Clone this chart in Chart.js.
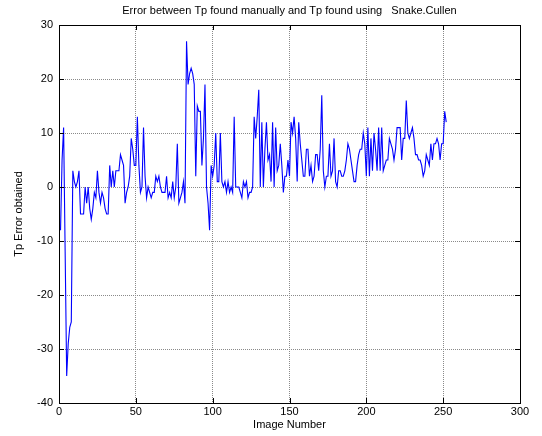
<!DOCTYPE html>
<html>
<head>
<meta charset="utf-8">
<script src="https://cdn.jsdelivr.net/npm/chart.js@4/dist/chart.umd.min.js"></script>
<style>
  body { margin: 0; background: #fff; }
  canvas { display: block; }
</style>
</head>
<body>
<canvas id="chart" width="542" height="436"></canvas>
<script>
  // Tp error per image, image numbers 1..252
  const tpError = [
    -8, 5, 11, -12, -35, -29, -26, -25, 3, 1,
    0, 1, 3, -5, -5, -5, 0, -3, 0, -4,
    -6, -4, -1, -2, 3, -1, -3, -1, -2, -4,
    -5, -5, 4, 0, 3, 0, 3, 3, 3, 6,
    5, 4, -3, -1, 0, 2, 9, 7, 4, 4,
    13, 4, -1, 0, 11, 2, -2, 0, -1, -2,
    -1, -1, 2, 1, 2, 0, -1, -1, -1, 2,
    -2, -1, -2, 1, -2, 0, 8, -3, -2, -1,
    1, -3, 27, 19, 21, 22, 21, 19, 2, 15,
    14, 14, 4, 9, 19, 0, -3, -8, 4, 2,
    4, 10, 1, 1, 10, 1, 0, 1, -1, 1,
    -1, 0, -1, 13, 0, 0, 0, -1, -2, 1,
    0, 1, -2, -1, -1, 0, 13, 9, 13, 18,
    0, 12, 0, 7, 12, 5, 6, 1, 12, 0,
    11, 3, 4, 8, 4, -1, 2, 2, 5, 2,
    12, 10, 13, 9, 1, 12, 8, 5, 2, 2,
    7, 7, 2, 4, 1, 2, 6, 6, 3, 7,
    17, 3, 0, 2, 2, 8, 2, 3, 9, 1,
    0, 3, 3, 2, 2, 3, 5, 8, 7, 5,
    3, 1, 1, 4, 6, 7, 7, 10, 8, 2,
    11, 2, 9, 3, 10, 7, 3, 11, 3, 11,
    3, 4, 5, 5, 9, 8, 7, 5, 7, 11,
    11, 11, 5, 9, 9, 16, 10, 9, 10, 11,
    9, 6, 6, 5, 5, 4, 2, 3, 6, 5,
    4, 8, 5, 8, 8, 9, 8, 5, 8, 8,
    14, 12
  ];
  const imageNumbers = tpError.map((v, i) => i + 1);

  const xTicks = [0, 50, 100, 150, 200, 250, 300];
  const yTicks = [-40, -30, -20, -10, 0, 10, 20, 30];

  const chartTitle = "Error between Tp found manually and Tp found using   Snake.Cullen";
  const xLabel = "Image Number";
  const yLabel = "Tp Error obtained";

  const FONT = "'Liberation Sans', Arial, sans-serif";

  // MATLAB style box with inward tick marks, plus the title
  const matlabBox = {
    id: "matlabBox",
    afterDraw(chart) {
      const { ctx, chartArea: a, scales } = chart;
      ctx.save();
      ctx.strokeStyle = "#000";
      ctx.lineWidth = 1;
      ctx.beginPath();
      xTicks.forEach(t => {
        const px = Math.round(scales.x.getPixelForValue(t)) + 0.5;
        ctx.moveTo(px, a.bottom); ctx.lineTo(px, a.bottom - 5);
        ctx.moveTo(px, a.top); ctx.lineTo(px, a.top + 5);
      });
      yTicks.forEach(t => {
        const py = Math.round(scales.y.getPixelForValue(t)) + 0.5;
        ctx.moveTo(a.left, py); ctx.lineTo(a.left + 5, py);
        ctx.moveTo(a.right, py); ctx.lineTo(a.right - 5, py);
      });
      ctx.stroke();
      ctx.strokeRect(Math.round(a.left) + 0.5, Math.round(a.top) + 0.5,
        Math.round(a.right - a.left), Math.round(a.bottom - a.top));

      ctx.fillStyle = "#000";
      ctx.font = "11px " + FONT;
      ctx.textAlign = "center";
      ctx.textBaseline = "middle";
      ctx.fillText(chartTitle, (a.left + a.right) / 2, 11);
      ctx.restore();
    }
  };

  new Chart(document.getElementById("chart"), {
    type: "line",
    data: {
      datasets: [{
        data: tpError.map((v, i) => ({ x: imageNumbers[i], y: v })),
        borderColor: "#0000ff",
        borderWidth: 1.1,
        pointRadius: 0,
        tension: 0,
        fill: false
      }]
    },
    options: {
      responsive: false,
      animation: false,
      layout: { padding: { top: 25, right: 22, bottom: 0, left: 0 } },
      plugins: { legend: { display: false }, tooltip: { enabled: false } },
      scales: {
        x: {
          type: "linear",
          min: 0, max: 300,
          afterFit(s) { s.height = 33; },
          afterBuildTicks(s) { s.ticks = xTicks.map(v => ({ value: v })); },
          ticks: { color: "#000", font: { size: 11, family: FONT }, padding: 2, maxRotation: 0 },
          grid: { color: "#8a8a8a", lineWidth: 1, drawTicks: false },
          border: { display: false, dash: [1, 1] },
          title: { display: true, text: xLabel, color: "#000", font: { size: 11, family: FONT }, padding: { top: 0, bottom: 4 } }
        },
        y: {
          min: -40, max: 30,
          afterFit(s) { s.width = 59; },
          afterBuildTicks(s) { s.ticks = yTicks.map(v => ({ value: v })); },
          ticks: { color: "#000", font: { size: 11, family: FONT }, padding: 6 },
          grid: { color: "#8a8a8a", lineWidth: 1, drawTicks: false },
          border: { display: false, dash: [1, 1] },
          title: { display: true, text: yLabel, color: "#000", font: { size: 11, family: FONT }, padding: { top: 12, bottom: 0 } }
        }
      }
    },
    plugins: [matlabBox]
  });
</script>
</body>
</html>
